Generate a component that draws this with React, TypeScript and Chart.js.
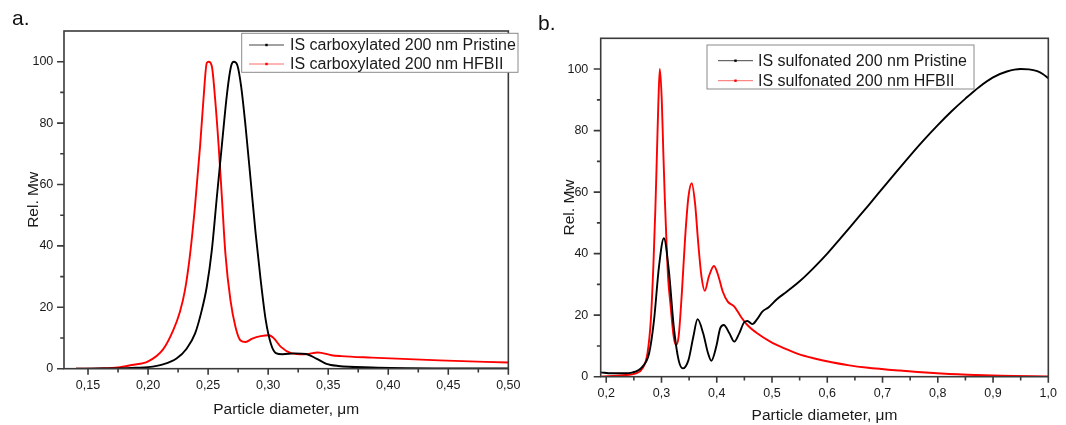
import React, { useEffect, useRef } from 'react';
import { Chart, registerables } from 'chart.js';

Chart.register(...registerables);

const FONT = '"Liberation Sans", Arial, Helvetica, sans-serif';
const TEXT = '#1a1a1a';
const FRAME = '#3a3a3a';

// ---------- Panel a: IS carboxylated 200 nm ----------
const aPristineX = [0.14, 0.16, 0.176, 0.19, 0.2, 0.2125, 0.2237, 0.2321, 0.2391, 0.2447, 0.2489, 0.2531, 0.2573, 0.2616, 0.2658, 0.2691, 0.2714, 0.2742, 0.2775, 0.2812, 0.2854, 0.2896, 0.2938, 0.298, 0.3022, 0.3064, 0.312, 0.3219, 0.3317, 0.3401, 0.3485, 0.3583, 0.3864, 0.4425, 0.5];
const aPristineY = [0, 0.05, 0.1, 0.3, 0.5, 1.4, 3.3, 6.5, 11.4, 19, 26.7, 38.6, 56, 73.4, 89.8, 98.5, 100, 99, 92, 78.9, 61.5, 44, 28.8, 15.8, 8.2, 5.1, 4.7, 5.0, 4.8, 3.3, 1.6, 0.9, 0.4, 0.1, 0.05];
const aHfbiiX = [0.14, 0.16, 0.175, 0.1863, 0.2001, 0.2125, 0.2209, 0.2265, 0.2307, 0.2349, 0.2391, 0.2433, 0.2461, 0.2489, 0.2505, 0.2531, 0.2559, 0.2588, 0.2616, 0.2644, 0.2686, 0.2728, 0.277, 0.2812, 0.2868, 0.2938, 0.3008, 0.305, 0.3106, 0.3191, 0.3303, 0.3415, 0.3527, 0.3606, 0.3864, 0.4425, 0.5];
const aHfbiiY = [0, 0.1, 0.4, 1.2, 2.4, 6.3, 12.5, 18.5, 25.5, 37, 53, 72.4, 87.6, 99.6, 100, 98.5, 87.6, 72.4, 55, 37.5, 22.3, 13.6, 9.2, 8.7, 9.8, 10.6, 10.9, 9.8, 7.1, 5.1, 4.7, 5.3, 4.4, 4.1, 3.6, 2.7, 2.0];
const aXTicks = [0.15, 0.2, 0.25, 0.3, 0.35, 0.4, 0.45, 0.5];
const aXMinor = [0.175, 0.225, 0.275, 0.325, 0.375, 0.425, 0.475];
const aLabels = ['IS carboxylated 200 nm Pristine', 'IS carboxylated 200 nm HFBII'];

// ---------- Panel b: IS sulfonated 200 nm ----------
const bPristineX = [0.19, 0.21, 0.23, 0.248, 0.2657, 0.2776, 0.2865, 0.2954, 0.3043, 0.3132, 0.3222, 0.331, 0.3387, 0.3488, 0.3576, 0.3653, 0.3754, 0.3843, 0.3902, 0.3991, 0.4062, 0.4128, 0.4229, 0.4318, 0.4407, 0.4496, 0.4554, 0.4643, 0.4732, 0.4821, 0.494, 0.5088, 0.5265, 0.55, 0.575, 0.6, 0.625, 0.65, 0.675, 0.7, 0.725, 0.75, 0.775, 0.8, 0.825, 0.85, 0.875, 0.9, 0.925, 0.95, 0.965, 0.98, 0.99, 1.0];
const bPristineY = [1.4, 1.1, 1.1, 1.4, 3.3, 7.6, 18.4, 35.7, 45, 34.7, 16.3, 5.4, 2.7, 5.4, 13, 18.7, 14.1, 7.6, 5.2, 9.8, 15.7, 16.8, 14.1, 11.4, 14.1, 17.7, 18.1, 17.1, 18.7, 21.1, 22.6, 25.2, 27.6, 31, 35.3, 40, 45.2, 50.5, 55.8, 61.2, 66.6, 71.9, 77, 81.8, 86.3, 90.4, 94.2, 97.3, 99.2, 100, 99.9, 99.3, 98.4, 97];
const bHfbiiX = [0.19, 0.23, 0.254, 0.2657, 0.2746, 0.2807, 0.2853, 0.289, 0.292, 0.2945, 0.297, 0.3005, 0.3033, 0.306, 0.309, 0.312, 0.316, 0.3221, 0.3262, 0.331, 0.3368, 0.3429, 0.3488, 0.3547, 0.3607, 0.3665, 0.3724, 0.3784, 0.3856, 0.395, 0.4033, 0.411, 0.4199, 0.4318, 0.4437, 0.4554, 0.4732, 0.4968, 0.5265, 0.547, 0.575, 0.608, 0.64, 0.67, 0.731, 0.792, 0.853, 0.914, 1.0];
const bHfbiiY = [0, 0.5, 1.1, 2.7, 7.6, 18.4, 36, 55, 74, 90, 100, 90, 73, 58, 44, 32, 24, 13, 10.3, 13, 27.1, 45.5, 58.5, 62.9, 56.4, 43.4, 32.5, 27.9, 32.5, 36, 32.5, 27.6, 24.4, 22.8, 19.5, 16.8, 14.1, 11.4, 8.9, 7.4, 6.0, 4.7, 3.7, 3.0, 2.0, 1.2, 0.65, 0.3, 0.1];
const bXTicks = [0.2, 0.3, 0.4, 0.5, 0.6, 0.7, 0.8, 0.9, 1.0];
const bXMinor = [0.25, 0.35, 0.45, 0.55, 0.65, 0.75, 0.85, 0.95];
const bLabels = ['IS sulfonated 200 nm Pristine', 'IS sulfonated 200 nm HFBII'];

// ---------- shared ----------
const yTicks = [0, 20, 40, 60, 80, 100];
const yMinor = [10, 30, 50, 70, 90];
const xTitle = 'Particle diameter, μm';
const yTitle = 'Rel. Mw';

type Panel = {
  tag: string;
  tagX: number;
  tagY: number;
  xMin: number;
  xMax: number;
  decimals: number;
  xTicks: number[];
  xMinor: number[];
  series: { label: string; xs: number[]; ys: number[]; color: string; legendColor: string }[];
  pad: { top: number; right: number };
  yAxisWidth: number;
  xAxisHeight: number;
  yTickPad: number;
  xTickPad: number;
  yTitlePad: number;
  xTitlePad: number;
  legend: { x: number; y: number; w: number; h: number; rows: number[]; lineX0: number; lineX1: number; textX: number };
};

function makeDecor(p: Panel) {
  return {
    id: 'decor' + p.tag,
    afterDatasetsDraw(chart: any) {
      const { ctx, chartArea: a, scales } = chart;
      const xs = scales.x;
      const ys = scales.y;
      ctx.save();
      ctx.strokeStyle = FRAME;
      ctx.lineWidth = 1.6;
      ctx.strokeRect(a.left, a.top, a.right - a.left, a.bottom - a.top);
      ctx.beginPath();
      p.xTicks.forEach((v) => {
        const px = xs.getPixelForValue(v);
        ctx.moveTo(px, a.bottom);
        ctx.lineTo(px, a.bottom + 6);
      });
      p.xMinor.forEach((v) => {
        const px = xs.getPixelForValue(v);
        ctx.moveTo(px, a.bottom);
        ctx.lineTo(px, a.bottom + 3.7);
      });
      yTicks.forEach((v) => {
        const py = ys.getPixelForValue(v);
        ctx.moveTo(a.left, py);
        ctx.lineTo(a.left - 7, py);
      });
      yMinor.forEach((v) => {
        const py = ys.getPixelForValue(v);
        ctx.moveTo(a.left, py);
        ctx.lineTo(a.left - 3.8, py);
      });
      ctx.stroke();
      ctx.restore();
    },
    afterDraw(chart: any) {
      const { ctx } = chart;
      const L = p.legend;
      ctx.save();
      ctx.fillStyle = '#ffffff';
      ctx.fillRect(L.x, L.y, L.w, L.h);
      ctx.strokeStyle = '#8a8a8a';
      ctx.lineWidth = 1;
      ctx.strokeRect(L.x, L.y, L.w, L.h);
      chart.data.datasets.forEach((ds: any, i: number) => {
        const y = L.rows[i];
        ctx.strokeStyle = p.series[i].legendColor;
        ctx.lineWidth = 1;
        ctx.beginPath();
        ctx.moveTo(L.lineX0, y);
        ctx.lineTo(L.lineX1, y);
        ctx.stroke();
        ctx.fillStyle = ds.borderColor;
        const mid = (L.lineX0 + L.lineX1) / 2;
        ctx.fillRect(mid - 1.2, y - 1.2, 2.4, 2.4);
        ctx.fillStyle = TEXT;
        ctx.font = `16px ${FONT}`;
        ctx.textBaseline = 'middle';
        ctx.textAlign = 'left';
        ctx.fillText(ds.label, L.textX, y + 0.5);
      });
      ctx.fillStyle = '#111';
      ctx.font = `21px ${FONT}`;
      ctx.textBaseline = 'alphabetic';
      ctx.fillText(p.tag, p.tagX, p.tagY);
      ctx.restore();
    },
  };
}

function buildConfig(p: Panel): any {
  const fmt = (v: any) => Number(v).toFixed(p.decimals).replace('.', ',');
  return {
    type: 'line',
    data: {
      datasets: p.series.map((s) => ({
        label: s.label,
        data: s.xs.map((x, i) => ({ x, y: s.ys[i] })),
        borderColor: s.color,
        backgroundColor: s.color,
        borderWidth: 1.9,
        pointRadius: 0,
        fill: false,
        cubicInterpolationMode: 'monotone',
      })),
    },
    options: {
      responsive: false,
      animation: false,
      devicePixelRatio: 1,
      layout: { padding: { top: p.pad.top, right: p.pad.right, left: 0, bottom: 0 } },
      plugins: { legend: { display: false }, tooltip: { enabled: false }, title: { display: false } },
      scales: {
        x: {
          type: 'linear',
          min: p.xMin,
          max: p.xMax,
          afterBuildTicks: (s: any) => {
            s.ticks = p.xTicks.map((v) => ({ value: v }));
          },
          afterFit: (s: any) => {
            s.height = p.xAxisHeight;
          },
          grid: { display: false, drawTicks: false },
          border: { display: false },
          ticks: {
            padding: p.xTickPad,
            color: TEXT,
            autoSkip: false,
            maxRotation: 0,
            font: { family: FONT, size: 12.5 },
            callback: (v: any) => fmt(v),
          },
          title: {
            display: true,
            text: xTitle,
            color: TEXT,
            font: { family: FONT, size: 15.5 },
            padding: { top: 0, bottom: p.xTitlePad },
          },
        },
        y: {
          type: 'linear',
          min: 0,
          max: 110,
          afterBuildTicks: (s: any) => {
            s.ticks = yTicks.map((v) => ({ value: v }));
          },
          afterFit: (s: any) => {
            s.width = p.yAxisWidth;
          },
          grid: { display: false, drawTicks: false },
          border: { display: false },
          ticks: {
            padding: p.yTickPad,
            color: TEXT,
            font: { family: FONT, size: 12.5 },
            callback: (v: any) => String(v),
          },
          title: {
            display: true,
            text: yTitle,
            color: TEXT,
            font: { family: FONT, size: 15.5 },
            padding: { top: p.yTitlePad, bottom: 0 },
          },
        },
      },
    },
    plugins: [makeDecor(p)],
  };
}

const panelA: Panel = {
  tag: 'a.',
  tagX: 12,
  tagY: 25,
  xMin: 0.13,
  xMax: 0.5,
  decimals: 2,
  xTicks: aXTicks,
  xMinor: aXMinor,
  series: [
    { label: aLabels[0], xs: aPristineX, ys: aPristineY, color: '#000000', legendColor: '#444444' },
    { label: aLabels[1], xs: aHfbiiX, ys: aHfbiiY, color: '#ff0000', legendColor: '#ff6a6a' },
  ],
  pad: { top: 31, right: 12 },
  yAxisWidth: 64,
  xAxisHeight: 56.3,
  yTickPad: 10.7,
  xTickPad: 9.5,
  yTitlePad: 24.7,
  xTitlePad: 5.7,
  legend: { x: 241.7, y: 33.3, w: 276.3, h: 39, rows: [45, 64], lineX0: 249, lineX1: 284, textX: 290 },
};

const panelB: Panel = {
  tag: 'b.',
  tagX: 8,
  tagY: 30,
  xMin: 0.19,
  xMax: 1.0,
  decimals: 1,
  xTicks: bXTicks,
  xMinor: bXMinor,
  series: [
    { label: bLabels[0], xs: bPristineX, ys: bPristineY, color: '#000000', legendColor: '#444444' },
    { label: bLabels[1], xs: bHfbiiX, ys: bHfbiiY, color: '#ff0000', legendColor: '#ff6a6a' },
  ],
  pad: { top: 38.3, right: 9.3 },
  yAxisWidth: 70.7,
  xAxisHeight: 48.3,
  yTickPad: 12.4,
  xTickPad: 9,
  yTitlePad: 30.3,
  xTitlePad: 0,
  legend: { x: 177, y: 45, w: 267, h: 44, rows: [60.7, 80.7], lineX0: 188, lineX1: 223, textX: 228 },
};

function PanelChart({ panel, left, width }: { panel: Panel; left: number; width: number }) {
  const ref = useRef<HTMLCanvasElement | null>(null);
  useEffect(() => {
    if (!ref.current) return;
    const chart = new Chart(ref.current, buildConfig(panel));
    return () => chart.destroy();
  }, [panel]);
  return (
    <canvas
      ref={ref}
      width={width}
      height={425}
      style={{ position: 'absolute', left, top: 0, width, height: 425, display: 'block' }}
    />
  );
}

export default function App() {
  return (
    <div style={{ position: 'absolute', left: 0, top: 0, width: 1066, height: 425, background: '#ffffff', overflow: 'hidden' }}>
      <PanelChart panel={panelA} left={0} width={530} />
      <PanelChart panel={panelB} left={530} width={536} />
    </div>
  );
}
